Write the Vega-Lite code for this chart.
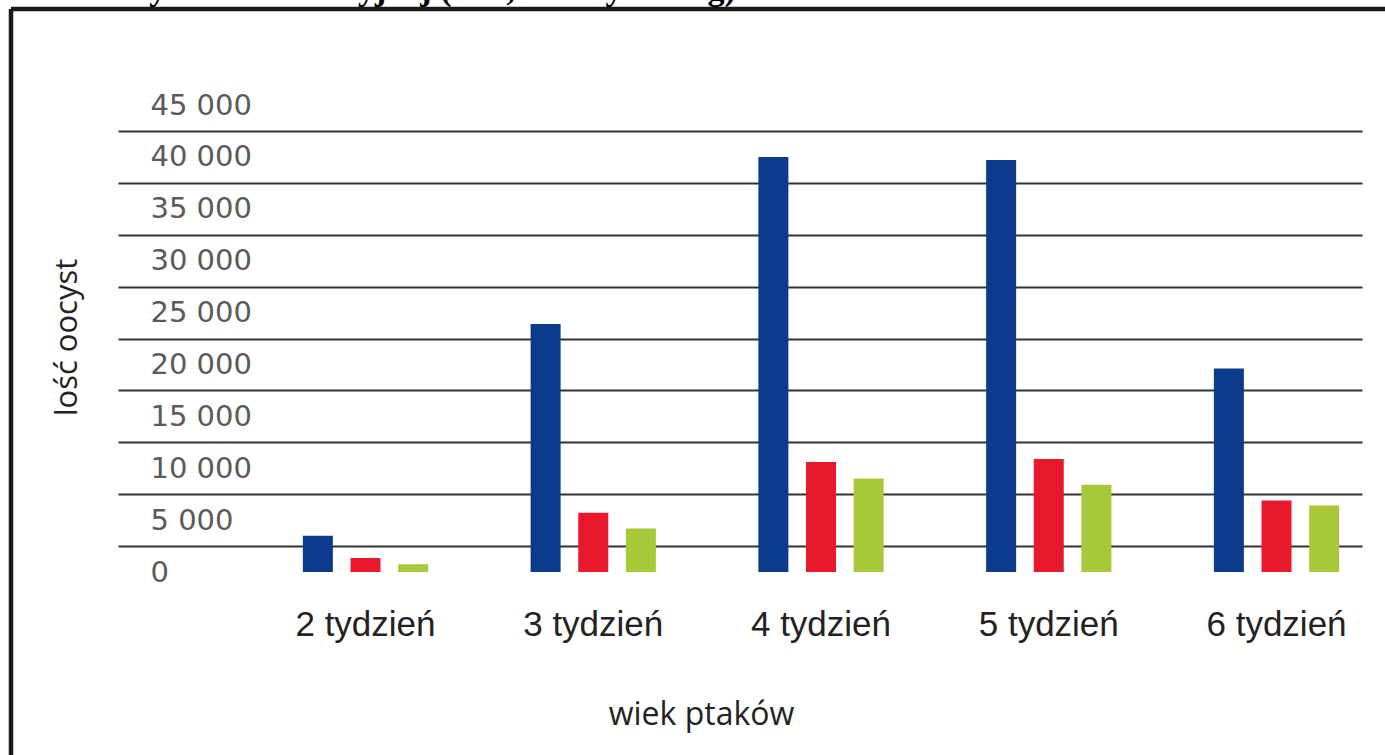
{
  "$schema": "https://vega.github.io/schema/vega-lite/v6.json",
  "autosize": {"type": "none"},
  "padding": {"left": 11, "top": 9, "right": 0, "bottom": 0},
  "width": 1374,
  "height": 746,
  "background": "white",
  "title": {
    "text": "Ocena aktywności inwazyjnej (LM, w oocystach/g)",
    "font": "Liberation Serif",
    "fontSize": 34,
    "fontWeight": "bold",
    "anchor": "start",
    "frame": "group",
    "baseline": "alphabetic",
    "offset": -25,
    "dx": -10,
    "color": "#000000"
  },
  "config": {
    "view": {"stroke": "#1a1a1a", "strokeWidth": 4.5, "strokeDash": [1374, 2120, 746, 0]}
  },
  "data": {
    "values": [
      {"wiek": "2 tydzień", "seria": "seria 1", "oocysty": 3500},
      {"wiek": "2 tydzień", "seria": "seria 2", "oocysty": 1350},
      {"wiek": "2 tydzień", "seria": "seria 3", "oocysty": 750},
      {"wiek": "3 tydzień", "seria": "seria 1", "oocysty": 23900},
      {"wiek": "3 tydzień", "seria": "seria 2", "oocysty": 5700},
      {"wiek": "3 tydzień", "seria": "seria 3", "oocysty": 4200},
      {"wiek": "4 tydzień", "seria": "seria 1", "oocysty": 40000},
      {"wiek": "4 tydzień", "seria": "seria 2", "oocysty": 10600},
      {"wiek": "4 tydzień", "seria": "seria 3", "oocysty": 9000},
      {"wiek": "5 tydzień", "seria": "seria 1", "oocysty": 39700},
      {"wiek": "5 tydzień", "seria": "seria 2", "oocysty": 10900},
      {"wiek": "5 tydzień", "seria": "seria 3", "oocysty": 8400},
      {"wiek": "6 tydzień", "seria": "seria 1", "oocysty": 19600},
      {"wiek": "6 tydzień", "seria": "seria 2", "oocysty": 6900},
      {"wiek": "6 tydzień", "seria": "seria 3", "oocysty": 6400}
    ]
  },
  "mark": {"type": "bar"},
  "encoding": {
    "x": {
      "field": "wiek",
      "type": "nominal",
      "sort": null,
      "scale": {"range": [107, 1351], "paddingInner": 0.45, "paddingOuter": 0.456, "align": 0.89},
      "axis": {
        "orient": "bottom",
        "offset": -183,
        "domain": false,
        "ticks": false,
        "tickSize": 0,
        "grid": false,
        "labelAngle": 0,
        "labelFont": "Liberation Sans",
        "labelFontSize": 35,
        "labelColor": "#222222",
        "labelPadding": 35,
        "title": "wiek ptaków",
        "titleFont": "Open Sans",
        "titleFontSize": 32,
        "titleFontWeight": "normal",
        "titleColor": "#222222",
        "titleX": 690,
        "titleY": 152,
        "titleBaseline": "alphabetic",
        "titleAlign": "center"
      }
    },
    "xOffset": {
      "field": "seria",
      "type": "nominal",
      "scale": {"paddingInner": 0.37, "paddingOuter": 0}
    },
    "y": {
      "field": "oocysty",
      "type": "quantitative",
      "scale": {"domain": [0, 45000], "range": [563, 96], "nice": false},
      "axis": {
        "values": [0, 5000, 10000, 15000, 20000, 25000, 30000, 35000, 40000, 45000],
        "labelExpr": "replace(format(datum.value, ','), ',', ' ')",
        "domain": false,
        "ticks": false,
        "tickSize": 0,
        "labelAlign": "left",
        "labelPadding": -139,
        "labelBaseline": "middle",
        "labelFont": "DejaVu Sans",
        "labelFontSize": 29,
        "labelColor": "#5a5a5a",
        "grid": true,
        "gridColor": "#333333",
        "gridWidth": 2,
        "gridOpacity": {"condition": {"test": "datum.value === 0", "value": 0}, "value": 1},
        "tickOffset": 26,
        "labelOffset": -26,
        "title": "lość oocyst",
        "titleFont": "Open Sans",
        "titleFontSize": 31,
        "titleFontWeight": "normal",
        "titleColor": "#222222",
        "titleAngle": -90,
        "titleX": 56,
        "titleY": 328,
        "titleBaseline": "middle",
        "titleAlign": "center"
      }
    },
    "color": {
      "field": "seria",
      "type": "nominal",
      "scale": {"domain": ["seria 1", "seria 2", "seria 3"], "range": ["#0c3b8e", "#e8192c", "#a8c83a"]},
      "legend": null
    }
  }
}
